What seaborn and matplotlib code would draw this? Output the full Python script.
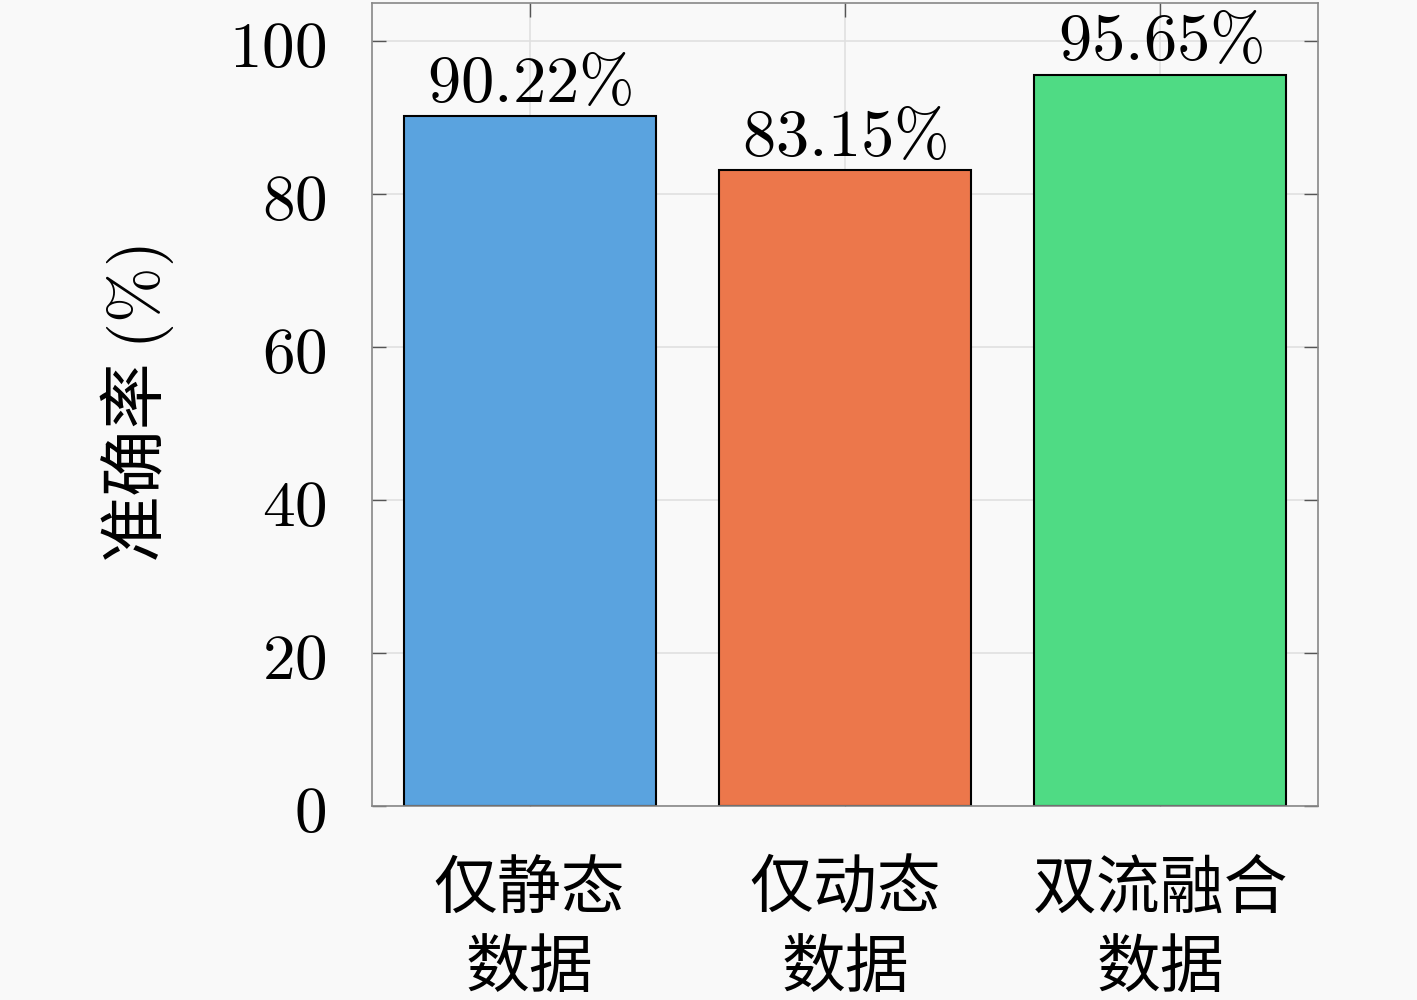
import numpy as np
import pandas as pd
import matplotlib
matplotlib.use("Agg")
import matplotlib.pyplot as plt
import seaborn as sns

categories = ["仅静态\n数据", "仅动态\n数据", "双流融合\n数据"]
accuracy = [90.22, 83.15, 95.65]
bar_colors = ["#5aa3df", "#ec774b", "#4fdb84"]
y_ticks = [0, 20, 40, 60, 80, 100]

sns.set_style("ticks")
plt.rcParams['font.family'] = ['Noto Sans CJK SC', 'DejaVu Sans']
plt.rcParams['mathtext.fontset'] = 'cm'
plt.rcParams['text.color'] = 'black'
plt.rcParams['axes.labelcolor'] = 'black'
plt.rcParams['xtick.labelcolor'] = 'black'
plt.rcParams['ytick.labelcolor'] = 'black'

df = pd.DataFrame({"cat": categories, "acc": accuracy})

bg = "#f9f9f9"
fig = plt.figure(figsize=(14.17, 10), dpi=100, facecolor=bg)
ax = fig.add_axes([372 / 1417, 194 / 1000, 946 / 1417, 803 / 1000])
ax.set_facecolor(bg)

sns.barplot(data=df, x="cat", y="acc", hue="cat", palette=bar_colors,
            width=0.8, edgecolor="black", linewidth=1.5, legend=False,
            saturation=1, ax=ax, zorder=2)

ax.set_xlim(-0.5, 2.5)
ax.set_ylim(0, 105)
ax.set_yticks(y_ticks)
ax.set_yticklabels([f"${t}$" for t in y_ticks], fontsize=47)
ax.set_xticks(range(len(categories)))
ax.set_xticklabels(categories, fontsize=46, linespacing=1.25)

ax.grid(True, color="#e0e0e0", linewidth=1.2, zorder=0)
ax.set_axisbelow(True)
ax.tick_params(direction="in", length=10, width=1, color="#555555",
               top=True, right=True)
ax.tick_params(axis="y", pad=33)
ax.tick_params(axis="x", pad=36)

for s in ax.spines.values():
    s.set_color("#888888")
    s.set_linewidth(1.2)

for i, v in enumerate(accuracy):
    ax.text(i, v - 0.1, f"${v:.2f}\\%$", ha="center", va="bottom", fontsize=48)

ax.set_xlabel("")
ax.set_ylabel("准确率 $(\\%)$", fontsize=48, labelpad=38)

plt.savefig("out.png", dpi=100, facecolor=bg)
plt.close()
